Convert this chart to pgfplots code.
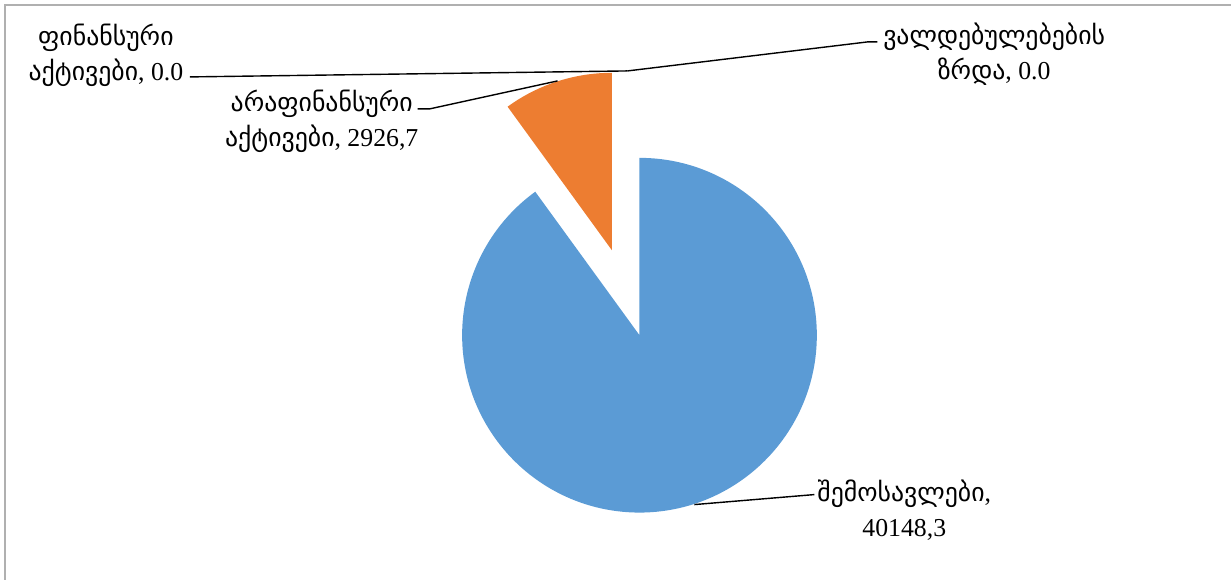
\documentclass[border=0pt]{standalone}
\usepackage{fontspec}
\setmainfont{Liberation Serif}
\newfontfamily\geo{DejaVu Sans}
\usepackage{pgfplots}
\usepackage{pgfplotstable}
\pgfplotsset{compat=1.18}
\definecolor{sblue}{HTML}{5B9BD5}
\definecolor{sorange}{HTML}{ED7D31}
\definecolor{frame}{HTML}{B0B0B0}
% share of the pie (percent, as drawn) and shown value
\pgfplotstableread[col sep=comma]{
name,value,share,explode
income,40148.3,90,0
nonfin,2926.7,10,89.5
fin,0,0,0
liab,0,0,0
}\piedata
\begin{document}
\begin{tikzpicture}
\begin{axis}[
  x=0.5pt, y=0.5pt,
  xmin=0, xmax=1232, ymin=0, ymax=580,
  hide axis, clip=false,
  scale only axis,
]
\path (axis cs:0,0) rectangle (axis cs:1232,580);
% frame
\draw[frame, line width=1pt] (axis cs:5.5,0) -- (axis cs:5.5,574.5) -- (axis cs:1232,574.5);
% slices
\pgfplotstablegetelem{0}{share}\of\piedata \let\sA\pgfplotsretval
\pgfplotstablegetelem{1}{share}\of\piedata \let\sB\pgfplotsretval
\pgfplotstablegetelem{1}{explode}\of\piedata \let\eB\pgfplotsretval
\pgfmathsetmacro\aStart{90}
\pgfmathsetmacro\aEnd{90-3.6*\sA}
\pgfmathsetmacro\bStart{90+3.6*\sB}
\pgfmathsetmacro\bMid{90+1.8*\sB}
\fill[sblue] (axis cs:640,244.5) -- ++(\aStart:88.75pt) arc[start angle=\aStart, end angle=\aEnd, radius=88.75pt] -- cycle;
\fill[sorange] (axis cs:640,244.5) ++(\bMid:\eB*0.5pt) -- ++(\bStart:88.75pt) arc[start angle=\bStart, end angle=90, radius=88.75pt] -- cycle;
% leader lines
\draw[black, line width=0.7pt] (axis cs:190,503) -- (axis cs:628,509);
\draw[black, line width=0.7pt] (axis cs:628,509) -- (axis cs:868,538) -- (axis cs:878,538);
\draw[black, line width=0.7pt] (axis cs:418,471) -- (axis cs:430,471) -- (axis cs:558,499);
\draw[black, line width=0.7pt] (axis cs:695,75) -- (axis cs:815,85);
% labels
\tikzset{lab/.style={align=center, inner sep=0pt, font=\fontsize{12.9}{17.5}\selectfont}}
\node[lab] at (axis cs:106,525) {{\geo ფინანსური}\\{\geo აქტივები}, 0.0};
\node[lab] at (axis cs:322,459) {{\geo არაფინანსური}\\{\geo აქტივები}, 2926,7};
\node[lab] at (axis cs:995,525.5) {{\geo ვალდებულებების}\\{\geo ზრდა}, 0.0};
\node[lab] at (axis cs:905,69) {{\geo შემოსავლები},\\40148,3};
\end{axis}
\end{tikzpicture}
\end{document}
